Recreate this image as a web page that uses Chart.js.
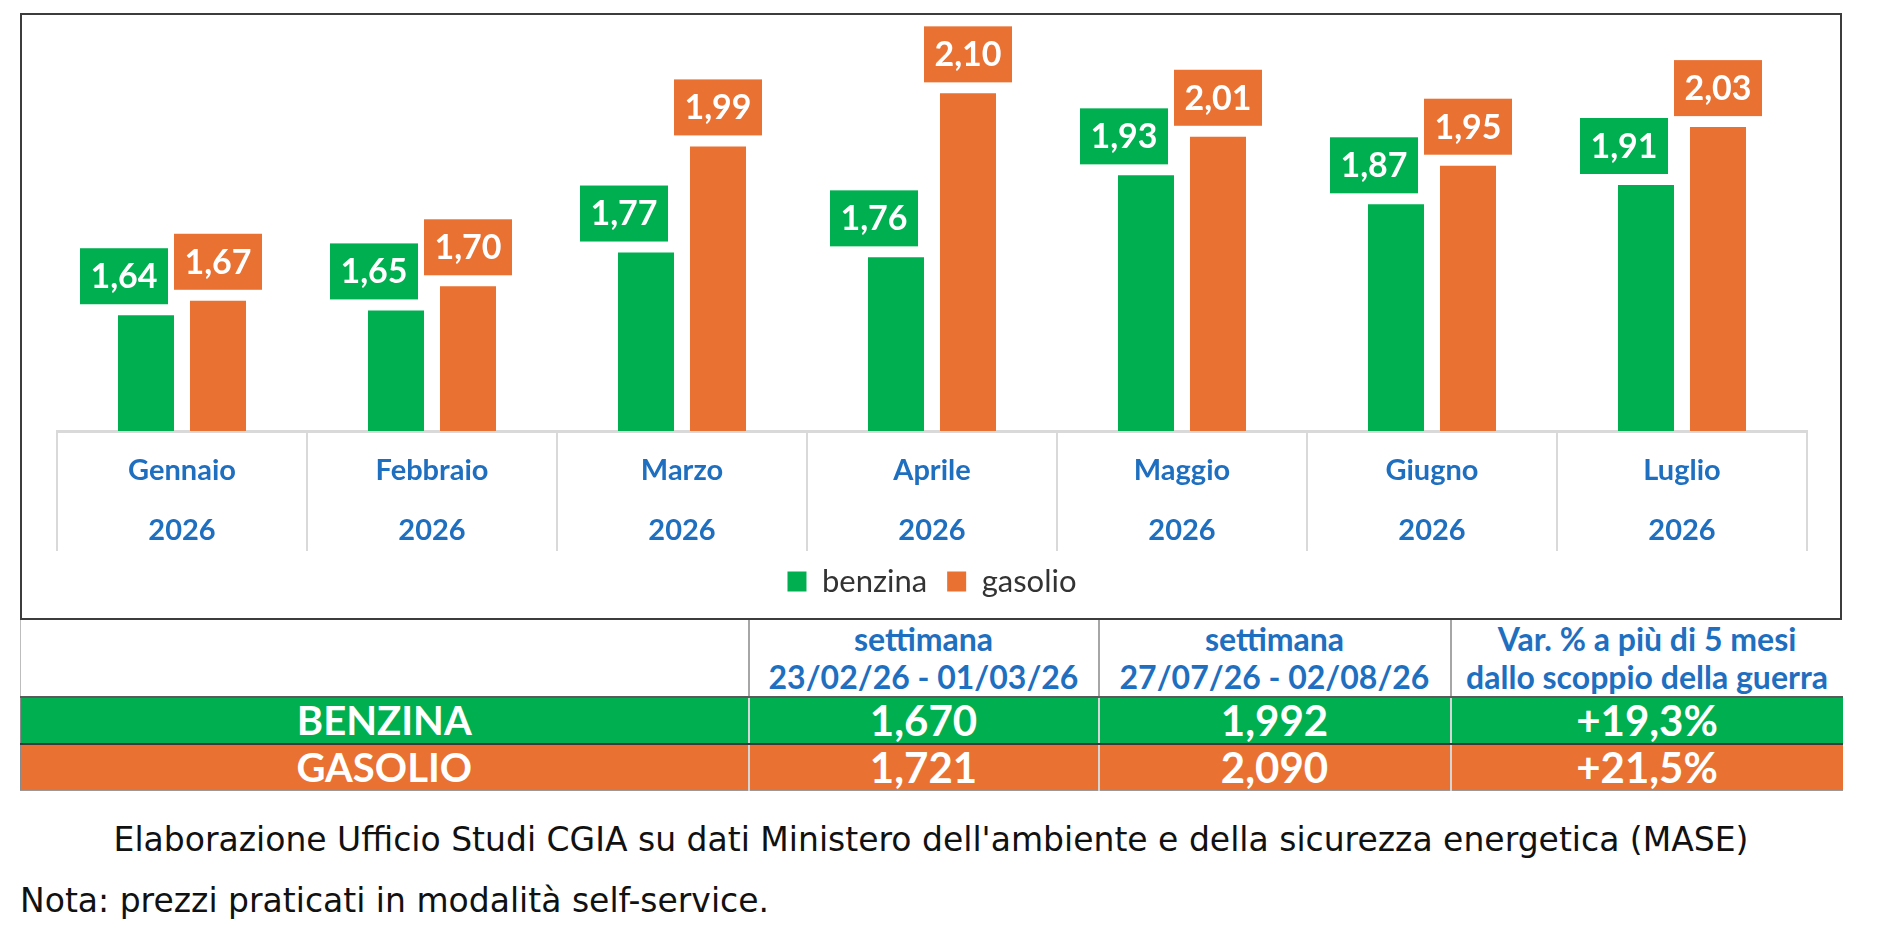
<!DOCTYPE html>
<html>
<head>
<meta charset="utf-8">
<script src="https://cdn.jsdelivr.net/npm/chart.js@4"></script>
<style>
  html, body { margin: 0; padding: 0; background: #fff; }
  body { width: 1890px; height: 931px; position: relative; overflow: hidden; font-family: Lato, "Noto Sans", sans-serif; }
  #frame { position: absolute; left: 20px; top: 13px; width: 1822px; height: 607px; border: 2px solid #3c3c3c; box-sizing: border-box; }
  #chartBox { position: absolute; left: 0; top: 0; width: 1818px; height: 603px; }
  #summary { position: absolute; left: 20px; top: 620px; width: 1822px; border-collapse: collapse; table-layout: fixed; }
  #summary td { text-align: center; padding: 0; font-weight: 700; }
  #summary tr.head td { height: 74px; color: #1f6fc0; font-size: 32px; line-height: 38px; border-left: 2px solid #a6a6a6; border-bottom: 2px solid #5a5a5a; }
  #summary tr.head td:first-child { border-left: 1px solid #bdbdbd; }
  #summary tr.row td { color: #fff; height: 45px; line-height: 45px; border-left: 2px solid #d6d6d6; }
  #summary tr.row td.name { font-size: 40px; border-left: 1px solid #8a8a8a; }
  #summary tr.row td.val { font-size: 42px; }
  #summary tr.benz td { background: #00b050; border-bottom: 2px solid #3a3a3a; }
  #summary tr.gas td { background: #e97132; border-bottom: 1px solid #9a9a9a; }
  .note { position: absolute; font-family: "DejaVu Sans", sans-serif; font-size: 33px; color: #111; white-space: nowrap; }
  #source { left: 20px; width: 1822px; text-align: center; top: 820px; }
  #nota { left: 20px; top: 881px; }
</style>
</head>
<body>
<div id="frame"><div id="chartBox"><canvas id="fuelChart"></canvas></div></div>

<table id="summary">
  <colgroup><col style="width:728px"><col style="width:350px"><col style="width:352px"><col style="width:392px"></colgroup>
  <tr class="head" id="headRow"></tr>
  <tr class="row benz" id="benzRow"></tr>
  <tr class="row gas" id="gasRow"></tr>
</table>

<div class="note" id="source">Elaborazione Ufficio Studi CGIA su dati Ministero dell'ambiente e della sicurezza energetica (MASE)</div>
<div class="note" id="nota">Nota: prezzi praticati in modalità self-service.</div>

<script>
// monthly averages (euro / litre)
const months = ["Gennaio", "Febbraio", "Marzo", "Aprile", "Maggio", "Giugno", "Luglio"];
const year = "2026";
const benzina = [1.64, 1.65, 1.77, 1.76, 1.93, 1.87, 1.91];
const gasolio = [1.67, 1.70, 1.99, 2.10, 2.01, 1.95, 2.03];

// weekly comparison table
const tableHeads = [["", ""], ["settimana", "23/02/26 - 01/03/26"], ["settimana", "27/07/26 - 02/08/26"], ["Var. % a più di 5 mesi", "dallo scoppio della guerra"]];
const benzinaWeeks = ["1,670", "1,992", "+19,3%"];
const gasolioWeeks = ["1,721", "2,090", "+21,5%"];

const GREEN = "#00b050";
const ORANGE = "#e97132";

// build the summary table
const headRow = document.getElementById("headRow");
tableHeads.forEach(h => {
    const td = document.createElement("td");
    td.innerHTML = h[0] + "<br>" + h[1];
    headRow.appendChild(td);
});
function fillRow(id, name, vals) {
    const tr = document.getElementById(id);
    const first = document.createElement("td");
    first.className = "name";
    first.textContent = name;
    tr.appendChild(first);
    vals.forEach(v => {
        const td = document.createElement("td");
        td.className = "val";
        td.textContent = v;
        tr.appendChild(td);
    });
}
fillRow("benzRow", "BENZINA", benzinaWeeks);
fillRow("gasRow", "GASOLIO", gasolioWeeks);

// boxed value labels above each bar
const boxLabels = {
    id: "boxLabels",
    afterDatasetsDraw(chart) {
        const ctx = chart.ctx;
        ctx.save();
        ctx.font = "bold 34px Lato";
        ctx.textAlign = "center";
        ctx.textBaseline = "middle";
        chart.data.datasets.forEach((ds, di) => {
            const meta = chart.getDatasetMeta(di);
            const shift = di === 0 ? -22 : 0;
            meta.data.forEach((bar, i) => {
                const w = 88, h = 56;
                const cx = bar.x + shift;
                const bottom = bar.y - 11;
                ctx.fillStyle = ds.backgroundColor;
                ctx.fillRect(cx - w / 2, bottom - h, w, h);
                ctx.fillStyle = "#ffffff";
                ctx.fillText(ds.data[i].toFixed(2).replace(".", ","), cx, bottom - h / 2 + 1);
            });
        });
        ctx.restore();
    }
};

new Chart(document.getElementById("fuelChart"), {
    type: "bar",
    data: {
        labels: months.map(m => [m, year]),
        datasets: [
            { label: "benzina", data: benzina, backgroundColor: GREEN },
            { label: "gasolio", data: gasolio, backgroundColor: ORANGE }
        ]
    },
    options: {
        responsive: true,
        maintainAspectRatio: false,
        animation: false,
        categoryPercentage: 0.576,
        barPercentage: 0.778,
        layout: { padding: { left: 35, right: 33, top: 6, bottom: 11 } },
        plugins: {
            legend: {
                position: "bottom",
                labels: {
                    boxWidth: 19,
                    boxHeight: 20,
                    padding: 20,
                    color: "#333",
                    font: { family: "Lato", size: 31 }
                }
            },
            tooltip: { enabled: false }
        },
        scales: {
            y: {
                display: false,
                min: 1.4,
                max: 2.25
            },
            x: {
                grid: {
                    drawOnChartArea: false,
                    color: "#d9d9d9",
                    lineWidth: 2,
                    tickLength: 120
                },
                border: { color: "#d9d9d9", width: 3 },
                ticks: {
                    color: "#1f6fc0",
                    padding: -110,
                    font: { family: "Lato", size: 29, weight: "bold", lineHeight: "60px" }
                },
                afterFit(scale) { scale.height = 115; }
            }
        }
    },
    plugins: [boxLabels]
});
</script>
</body>
</html>
